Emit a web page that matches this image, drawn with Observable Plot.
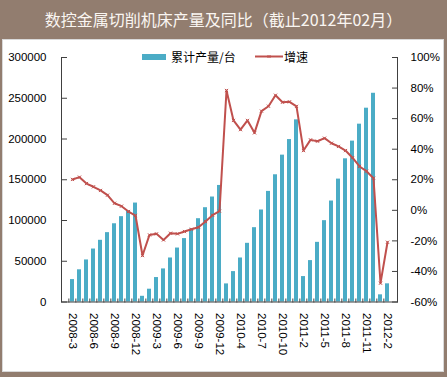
<!DOCTYPE html>
<html>
<head>
<meta charset="utf-8">
<script src="https://cdn.jsdelivr.net/npm/d3@7"></script>
<script src="https://cdn.jsdelivr.net/npm/@observablehq/plot@0.6"></script>
<style>
  html, body { margin: 0; padding: 0; background: #927D6F; }
  #wrap { position: relative; width: 447px; height: 377px; background: #927D6F; overflow: hidden; }
  #title { position: absolute; left: 0; top: 0; width: 447px; height: 38px; line-height: 38px; text-align: center;
           color: #FAF6F2; font-family: "Noto Sans CJK SC", sans-serif; font-size: 16px; }
  #panel { position: absolute; left: 2px; top: 39px; width: 440px; height: 331px; background: #fff; border: 1px solid #D9D9D9; }
  #chart { position: absolute; left: 0; top: 0; }
  .lg { position: absolute; font-family: "Noto Sans CJK SC", sans-serif; font-size: 12px; line-height: 16px; color: #000; }
</style>
</head>
<body>
<div id="wrap">
  <div id="title">数控金属切削机床产量及同比（截止2012年02月）</div>
  <div id="panel"></div>
  <div id="chart"></div>
  <div style="position:absolute;left:142px;top:54px;width:24px;height:6px;background:#4BACC6"></div>
  <div class="lg" style="left:171px;top:49px">累计产量/台</div>
  <svg style="position:absolute;left:255px;top:52px" width="28" height="9">
    <line x1="0" y1="4.5" x2="28" y2="4.5" stroke="#C0504D" stroke-width="2"/>
    <path d="M12.5,3L15.5,6M15.5,3L12.5,6" stroke="#C0504D" stroke-width="1"/>
  </svg>
  <div class="lg" style="left:284px;top:49px">增速</div>
</div>
<script>
const cats = [
  "2008-3","2008-4","2008-5","2008-6","2008-7","2008-8","2008-9","2008-10","2008-11","2008-12",
  "2009-1","2009-2","2009-3","2009-4","2009-5","2009-6","2009-7","2009-8","2009-9","2009-10","2009-11","2009-12",
  "2010-2","2010-3","2010-4","2010-5","2010-6","2010-7","2010-8","2010-9","2010-10","2010-11","2010-12",
  "2011-2","2011-3","2011-4","2011-5","2011-6","2011-7","2011-8","2011-9","2011-10","2011-11","2011-12",
  "2012-1","2012-2"
];
const output = [
  27500, 39500, 51600, 65000, 75700, 85100, 96000, 104700, 112000, 121400,
  7000, 15700, 30000, 40600, 54000, 66200, 77800, 89600, 102200, 115700, 128800, 143000,
  22200, 37300, 54000, 72000, 91200, 112900, 135700, 156100, 180200, 199300, 223500,
  31200, 50800, 73200, 99800, 123900, 150800, 175700, 197400, 218200, 237800, 256100,
  8800, 22300
];
const growth = [
  20.2, 21.7, 17.5, 15.4, 13.0, 9.9, 4.6, 2.7, -0.8, -3.4,
  -29.6, -16.1, -15.4, -19.4, -15.0, -15.4, -13.9, -12.4, -11.1, -7.3, -3.2, -0.6,
  78.4, 58.8, 52.8, 58.8, 50.7, 64.9, 68.1, 75.3, 70.7, 71.0, 68.0,
  39.1, 46.1, 45.2, 47.2, 43.9, 41.8, 39.1, 34.4, 28.7, 25.6, 21.0,
  -47.7, -20.9
];
const leftTicks = [0, 50000, 100000, 150000, 200000, 250000, 300000];
const rightTicks = [-60, -40, -20, 0, 20, 40, 60, 80, 100];
const xTickLabels = ["2008-3","2008-6","2008-9","2008-12","2009-3","2009-6","2009-9","2009-12",
  "2010-4","2010-7","2010-10","2011-2","2011-5","2011-8","2011-11","2012-2"];

const data = cats.map((c, i) => ({cat: c, value: output[i], growth: growth[i]}));
const yMax = leftTicks[leftTicks.length - 1];
const pMin = rightTicks[0], pMax = rightTicks[rightTicks.length - 1];
const toY = p => (p - pMin) / (pMax - pMin) * yMax;
const fromY = v => Math.round(v / yMax * (pMax - pMin) + pMin);

const W = 447, H = 377, mL = 61, mR = 50, mT = 57, mB = 75.5;
const pw = W - mL - mR, ph = H - mT - mB;
const step = pw / cats.length;
const axisColor = "#404040";

const chart = Plot.plot({
  width: W, height: H,
  marginLeft: mL, marginRight: mR, marginTop: mT, marginBottom: mB,
  style: {background: "transparent", fontFamily: "'Liberation Sans', Arial, sans-serif", fontSize: "11.5px", color: "#000", overflow: "visible"},
  x: {type: "band", domain: cats, paddingInner: 0.5, paddingOuter: 0.25, label: null},
  y: {domain: [0, yMax], label: null},
  marks: [
    Plot.barY(data, {x: "cat", y: "value", fill: "#4BACC6"}),
    Plot.frame({anchor: "left", stroke: axisColor}),
    Plot.frame({anchor: "right", stroke: axisColor}),
    Plot.frame({anchor: "bottom", stroke: axisColor}),
    Plot.axisY({ticks: leftTicks, anchor: "left", tickSize: 0, tickPadding: 15, tickFormat: d => String(d)}),
    Plot.axisY({ticks: leftTicks, anchor: "right", tickSize: 5, tickFormat: () => "", dx: -pw, stroke: axisColor}),
    Plot.axisY({ticks: rightTicks.map(toY), anchor: "right", tickSize: 0, tickPadding: 13, tickFormat: d => fromY(d) + "%"}),
    Plot.axisY({ticks: rightTicks.map(toY), anchor: "left", tickSize: 5, tickFormat: () => "", dx: pw, stroke: axisColor}),
    Plot.axisX({ticks: cats, anchor: "top", tickSize: 4, tickFormat: () => "", dy: ph, dx: -step / 2, stroke: axisColor}),
    Plot.axisX({ticks: xTickLabels, anchor: "bottom", tickSize: 0, tickPadding: 11, tickRotate: 90, textAnchor: "start"}),
    Plot.line(data, {x: "cat", y: d => toY(d.growth), stroke: "#C0504D", strokeWidth: 2}),
    Plot.dot(data, {x: "cat", y: d => toY(d.growth), symbol: "times", r: 1.6, stroke: "#C0504D", strokeWidth: 1})
  ]
});
document.getElementById("chart").appendChild(chart);
</script>
</body>
</html>
